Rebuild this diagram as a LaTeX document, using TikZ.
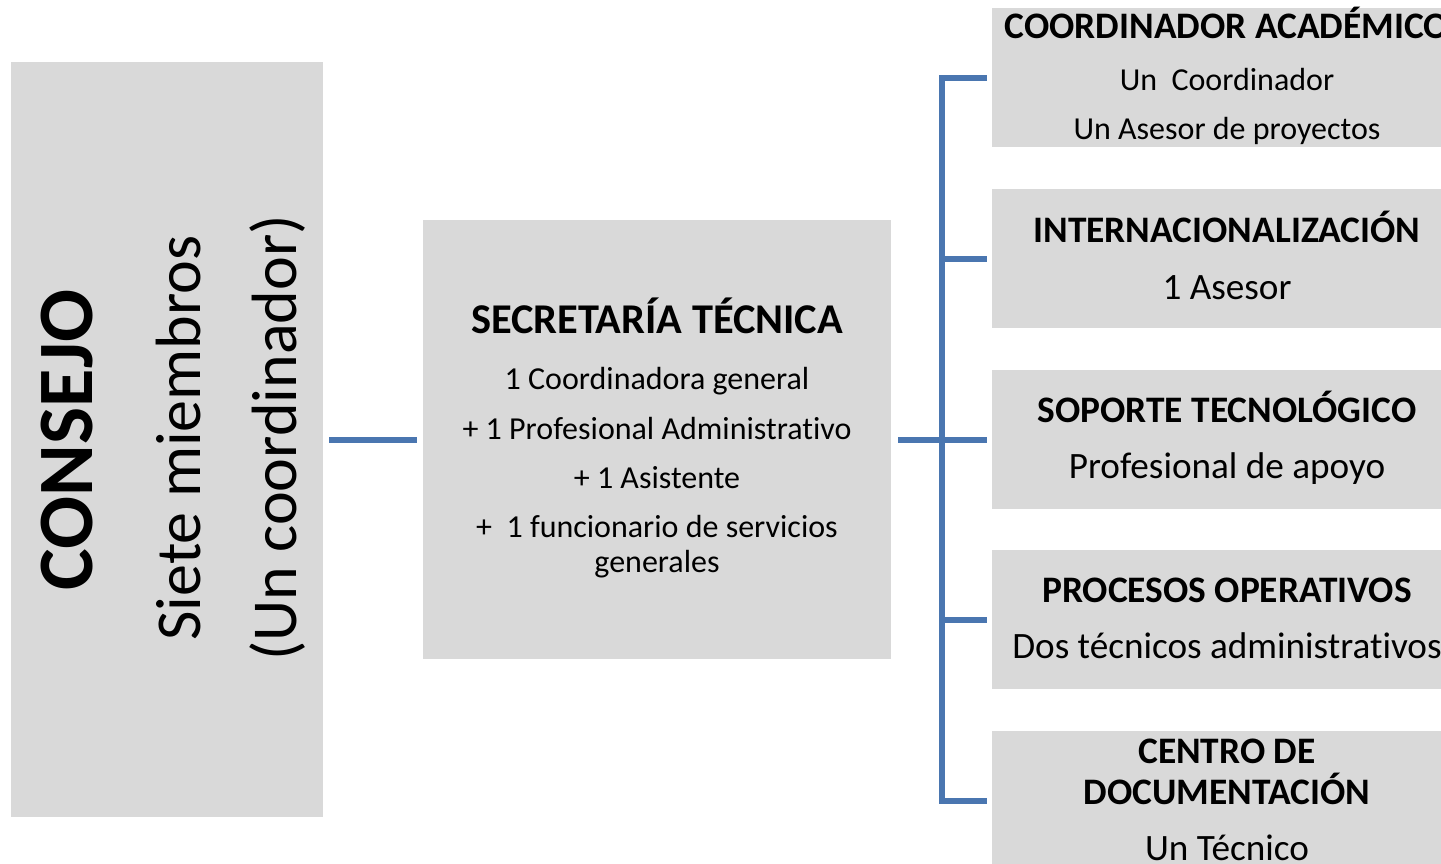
\documentclass[tikz,border=0pt]{standalone}
\usepackage{fontspec}
\setmainfont{Carlito}[RawFeature=-liga]
\definecolor{boxgrey}{RGB}{217,217,217}
\definecolor{connblue}{RGB}{74,118,176}
\tikzset{
  box/.style={rectangle, fill=boxgrey, draw=none, inner sep=0pt, anchor=north west},
  conn/.style={draw=connblue, line width=6pt, line join=miter},
  hd/.style={anchor=base, inner sep=0pt, font=\bfseries\fontsize{37.4}{45}\selectfont},
  hdbig/.style={anchor=base, inner sep=0pt, font=\bfseries\fontsize{42.4}{50}\selectfont},
  bd/.style={anchor=base, inner sep=0pt, font=\fontsize{32}{38}\selectfont},
  bdbig/.style={anchor=base, inner sep=0pt, font=\fontsize{37.2}{44}\selectfont},
  vert/.style={anchor=base, inner sep=0pt, rotate=90, font=\fontsize{64}{72}\selectfont},
}
\begin{document}
\begin{tikzpicture}[x=1pt, y=-1pt]
\useasboundingbox (0,0) rectangle (1441,864);
\clip (0,0) rectangle (1441,864);
% boxes
\node[box, minimum width=312pt, minimum height=755pt] (consejo) at (11,62) {};
\node[box, minimum width=468pt, minimum height=439pt] (sec) at (423,220) {};
\node[box, minimum width=470pt, minimum height=139pt] (b1) at (992,8) {};
\node[box, minimum width=470pt, minimum height=139pt] (b2) at (992,189) {};
\node[box, minimum width=470pt, minimum height=139pt] (b3) at (992,370) {};
\node[box, minimum width=470pt, minimum height=139pt] (b4) at (992,550) {};
\node[box, minimum width=470pt, minimum height=139pt] (b5) at (992,731) {};
% consejo texts
\node[vert, font=\bfseries\fontsize{78.5}{90}\selectfont] (tconsejo) at (92,440) {CONSEJO};
\node[vert] (tsiete) at (200,438) {Siete miembros};
\node[vert] (tcoord) at (296,438) {(Un coordinador)};
% secretaria texts
\node[hdbig] (tsec) at (657,333) {SECRETARÍA TÉCNICA};
\node[bd] (ts1) at (657,389) {1 Coordinadora general};
\node[bd] (ts2) at (657,439) {+ 1 Profesional Administrativo};
\node[bd] (ts3) at (657,488) {+ 1 Asistente};
\node[bd] (ts4) at (657,537) {+\ \ 1 funcionario de servicios};
\node[bd] (ts5) at (657,572) {generales};
% right texts
\node[hd] (t1a) at (1227,39) {COORDINADOR ACADÉMICO};
\node[bd] (t1b) at (1227,91) {Un\ \ Coordinador};
\node[bd] (t1c) at (1227,140) {Un Asesor de proyectos};
\node[hd] (t2a) at (1227,242) {INTERNACIONALIZACIÓN};
\node[bdbig] (t2b) at (1227,299) {1 Asesor};
\node[hd] (t3a) at (1227,422) {SOPORTE TECNOLÓGICO};
\node[bdbig] (t3b) at (1227,478) {Profesional de apoyo};
\node[hd] (t4a) at (1227,602) {PROCESOS OPERATIVOS};
\node[bdbig] (t4b) at (1227,658) {Dos técnicos administrativos};
\node[hd] (t5a) at (1227,763) {CENTRO DE};
\node[hd] (t5b) at (1227,804) {DOCUMENTACIÓN};
\node[bdbig] (t5c) at (1227,860) {Un Técnico};
% connectors
\coordinate (bt) at (942,0);
\draw[conn, shorten <=6pt, shorten >=6pt] (consejo.east) -- (sec.west);
\draw[conn, shorten <=7pt, shorten >=5pt] (sec.east) -- (b3.west);
\draw[conn, shorten <=5pt, shorten >=5pt] (b1.west) -- (b1.west -| bt) -- (b5.west -| bt) -- (b5.west);
\draw[conn, shorten >=5pt] (b2.west -| bt) -- (b2.west);
\draw[conn, shorten >=5pt] (b4.west -| bt) -- (b4.west);
\end{tikzpicture}
\end{document}
